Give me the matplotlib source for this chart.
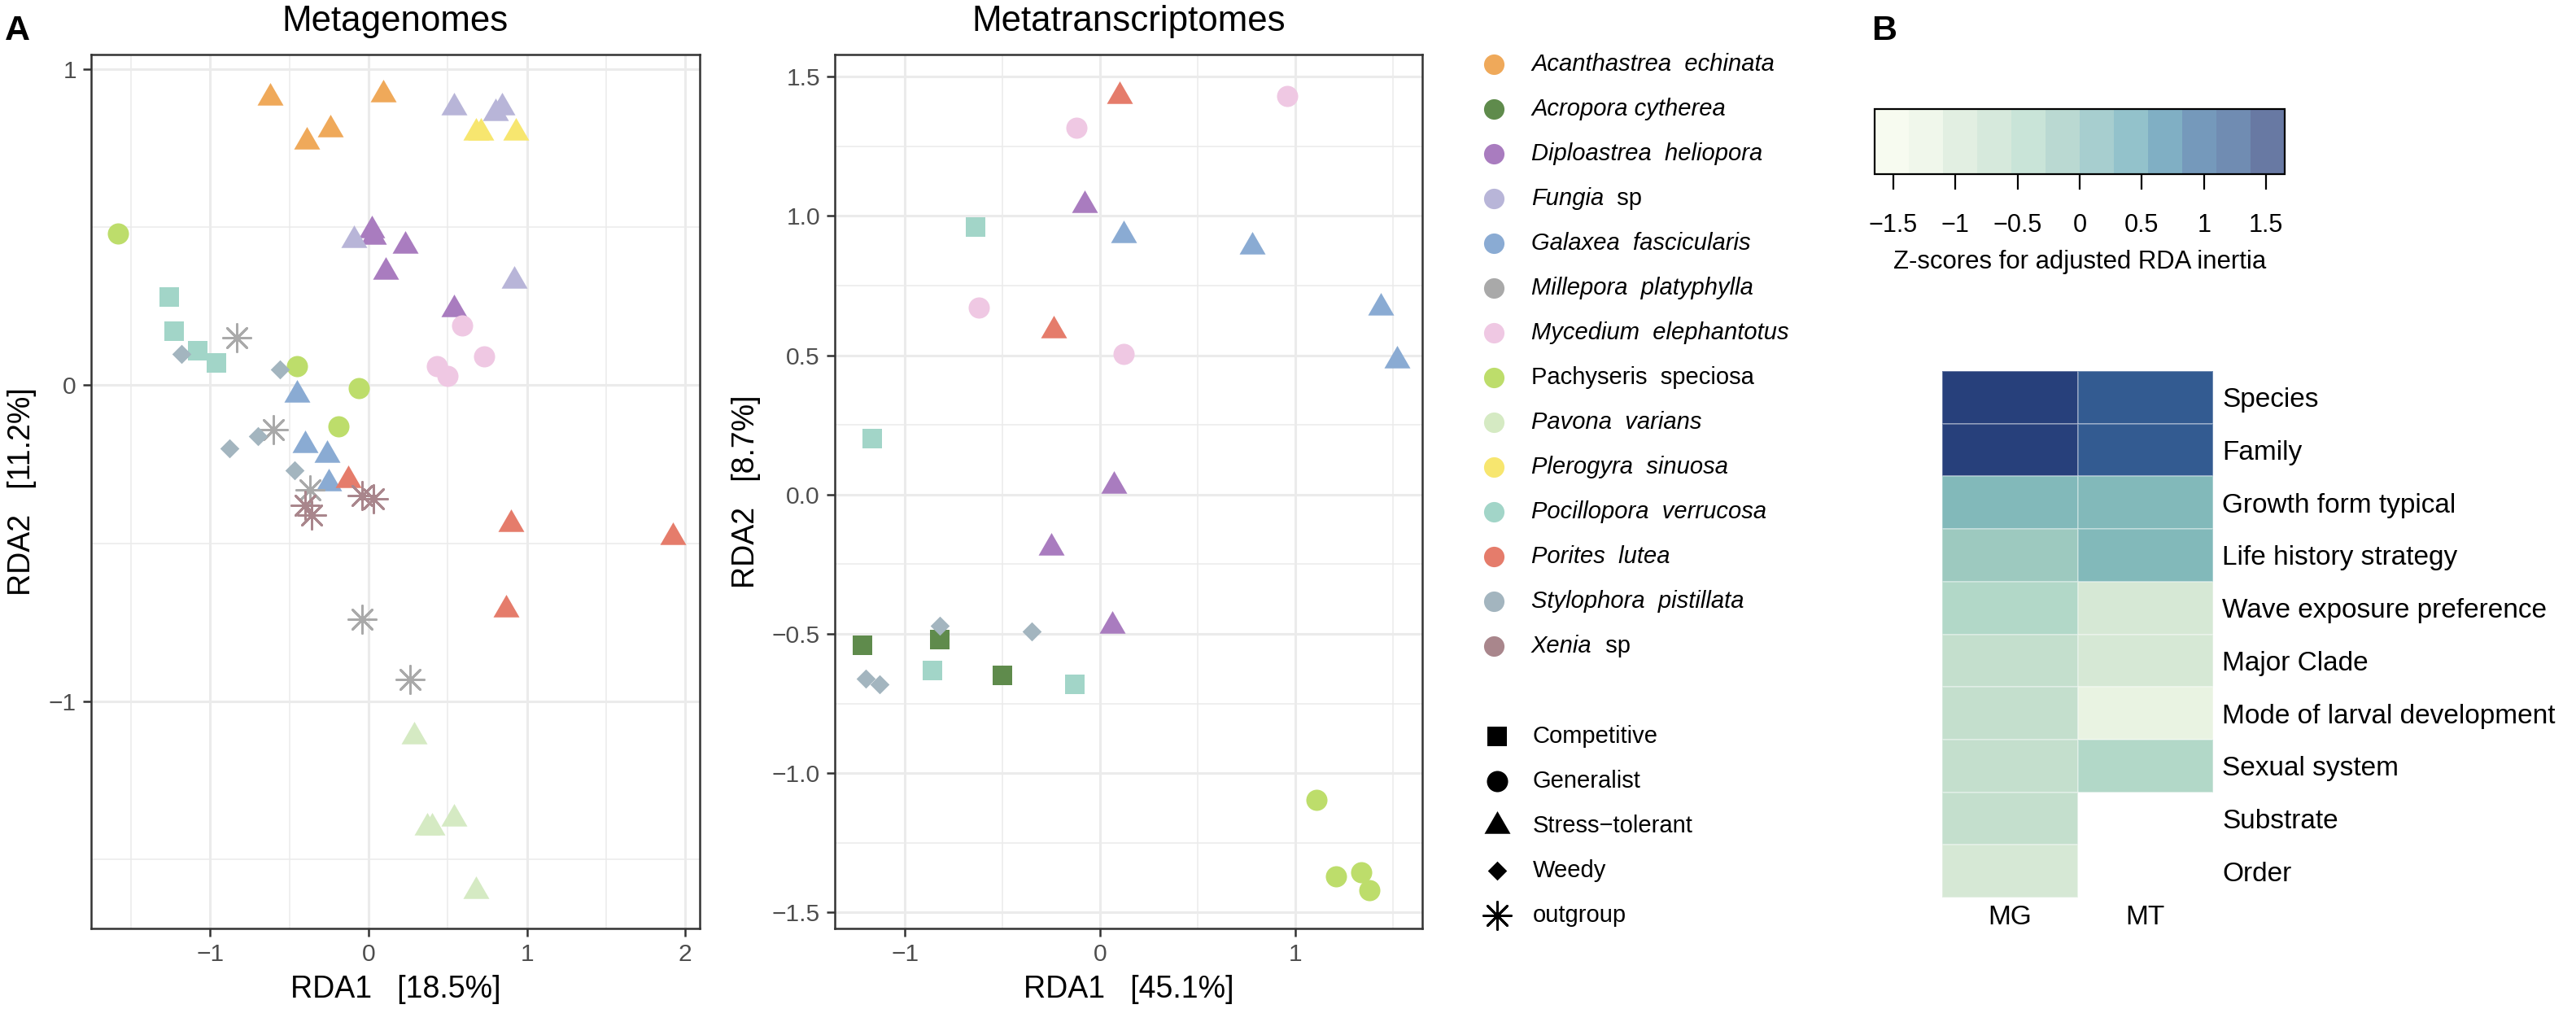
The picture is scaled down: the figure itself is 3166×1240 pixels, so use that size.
# libraries
import matplotlib.pyplot as plt
import numpy as np
from matplotlib.colors import ListedColormap, BoundaryNorm, to_rgb
from matplotlib.cm import ScalarMappable

plt.rcParams['font.family'] = ['Liberation Sans', 'DejaVu Sans']

# species, colours and life history strategy
species = ['Acanthastrea echinata', 'Acropora cytherea', 'Diploastrea heliopora', 'Fungia sp',
           'Galaxea fascicularis', 'Millepora platyphylla', 'Mycedium elephantotus', 'Pachyseris speciosa',
           'Pavona varians', 'Plerogyra sinuosa', 'Pocillopora verrucosa', 'Porites lutea',
           'Stylophora pistillata', 'Xenia sp']
species_colors = ['#efa95a', '#5f8b4c', '#a97cbf', '#b8b5d8', '#8aabd3', '#a9a9a9', '#efc8e3', '#bddd6b',
                  '#d5eac3', '#f7e66f', '#a2d5c8', '#e57c6b', '#a3b5bf', '#a9868c']
species_strategy = ['Stress-tolerant', 'Competitive', 'Stress-tolerant', 'Stress-tolerant', 'Stress-tolerant',
                    'outgroup', 'Generalist', 'Generalist', 'Stress-tolerant', 'Stress-tolerant',
                    'Competitive', 'Stress-tolerant', 'Weedy', 'outgroup']
strategies = ['Competitive', 'Generalist', 'Stress\u2212tolerant', 'Weedy', 'outgroup']

# metagenomes RDA scores
mg_species = (['Acanthastrea echinata'] * 4 + ['Fungia sp'] * 5 + ['Plerogyra sinuosa'] * 3
              + ['Diploastrea heliopora'] * 5 + ['Pachyseris speciosa'] * 4 + ['Pocillopora verrucosa'] * 4
              + ['Stylophora pistillata'] * 5 + ['Millepora platyphylla'] * 5 + ['Xenia sp'] * 4
              + ['Galaxea fascicularis'] * 4 + ['Porites lutea'] * 4 + ['Pavona varians'] * 5
              + ['Mycedium elephantotus'] * 4)
mg_rda1 = [-0.62, 0.09, -0.39, -0.24,
           0.54, 0.80, 0.84, -0.09, 0.92,
           0.68, 0.71, 0.93,
           0.02, 0.03, 0.23, 0.11, 0.54,
           -1.58, -0.45, -0.06, -0.19,
           -1.26, -1.23, -1.08, -0.96,
           -1.18, -0.56, -0.88, -0.70, -0.47,
           -0.83, -0.60, -0.37, -0.04, 0.26,
           -0.40, -0.36, -0.04, 0.03,
           -0.45, -0.40, -0.26, -0.25,
           -0.13, 0.90, 1.92, 0.87,
           0.29, 0.37, 0.40, 0.54, 0.68,
           0.59, 0.43, 0.50, 0.73]
mg_rda2 = [0.91, 0.92, 0.77, 0.81,
           0.88, 0.86, 0.88, 0.46, 0.33,
           0.80, 0.80, 0.80,
           0.49, 0.47, 0.44, 0.36, 0.24,
           0.48, 0.06, -0.01, -0.13,
           0.28, 0.17, 0.11, 0.07,
           0.10, 0.05, -0.20, -0.16, -0.27,
           0.15, -0.14, -0.33, -0.74, -0.93,
           -0.38, -0.41, -0.35, -0.36,
           -0.03, -0.19, -0.22, -0.31,
           -0.30, -0.44, -0.48, -0.71,
           -1.11, -1.40, -1.40, -1.37, -1.60,
           0.19, 0.06, 0.03, 0.09]

# metatranscriptomes RDA scores
mt_species = (['Porites lutea'] * 2 + ['Mycedium elephantotus'] * 4 + ['Diploastrea heliopora'] * 4
              + ['Galaxea fascicularis'] * 4 + ['Pocillopora verrucosa'] * 4 + ['Acropora cytherea'] * 3
              + ['Stylophora pistillata'] * 4 + ['Pachyseris speciosa'] * 4)
mt_rda1 = [0.10, -0.24,
           -0.12, 0.96, -0.62, 0.12,
           -0.08, 0.07, -0.25, 0.06,
           0.12, 0.78, 1.44, 1.52,
           -0.64, -1.17, -0.86, -0.13,
           -1.22, -0.82, -0.50,
           -0.82, -0.35, -1.20, -1.13,
           1.11, 1.21, 1.34, 1.38]
mt_rda2 = [1.43, 0.59,
           1.315, 1.43, 0.67, 0.505,
           1.04, 0.03, -0.19, -0.47,
           0.93, 0.89, 0.67, 0.48,
           0.96, 0.20, -0.63, -0.68,
           -0.54, -0.52, -0.65,
           -0.47, -0.49, -0.66, -0.68,
           -1.095, -1.37, -1.355, -1.42]

# heatmap of z-scores for adjusted RDA inertia
traits = ['Species', 'Family', 'Growth form typical', 'Life history strategy', 'Wave exposure preference',
          'Major Clade', 'Mode of larval development', 'Sexual system', 'Substrate', 'Order']
z_mg = [1.5, 1.5, 0.1, -0.2, -0.45, -0.7, -0.7, -0.75, -0.75, -0.95]
z_mt = [1.2, 1.2, 0.15, 0.15, -1.0, -1.0, -1.25, -0.45, np.nan, np.nan]
heat_colors = ['#f4f9ea', '#e9f3e2', '#d6e8d5', '#c4dfcd', '#b2d8c8', '#9dc9bf',
               '#82b9ba', '#65a8b5', '#4a8dab', '#3a6d9e', '#335b91', '#27407b']
cb_ticks = [-1.5, -1, -0.5, 0, 0.5, 1, 1.5]

# figure in pixel units
W, H, DPI = 3166, 1240, 200
fig = plt.figure(figsize=(W / DPI, H / DPI), dpi=DPI)


def px_axes(x0, y0, x1, y1, **kw):
    return fig.add_axes([x0 / W, 1 - y1 / H, (x1 - x0) / W, (y1 - y0) / H], **kw)


tri = [(0, 1), (-0.866, -0.5), (0.866, -0.5)]
shape_style = {'Competitive': ('s', 80), 'Generalist': ('o', 88), 'Stress-tolerant': (tri, 177),
               'Weedy': ('D', 36), 'outgroup': ((8, 2, 0), 150)}


def draw_scatter(ax, sp, x, y):
    sp = np.array(sp)
    x = np.array(x)
    y = np.array(y)
    for name, col, strat in zip(species, species_colors, species_strategy):
        m = sp == name
        if not m.any():
            continue
        mk, s = shape_style[strat]
        if strat == 'outgroup':
            ax.scatter(x[m], y[m], marker=mk, s=s, color=col, linewidths=1.0, zorder=3)
        else:
            ax.scatter(x[m], y[m], marker=mk, s=s, color=col, linewidths=0, zorder=3)


def style_panel(ax, xmaj, xmin, ymaj, ymin):
    ax.set_xticks(xmaj)
    ax.set_xticks(xmin, minor=True)
    ax.set_yticks(ymaj)
    ax.set_yticks(ymin, minor=True)
    ax.grid(which='major', color='#ebebeb', lw=1.1)
    ax.grid(which='minor', color='#ebebeb', lw=0.55)
    ax.set_axisbelow(True)
    ax.tick_params(which='major', length=3.5, width=0.9, color='#333333', labelcolor='#4d4d4d',
                   labelsize=10.8, pad=3)
    ax.tick_params(which='minor', length=0)
    for sp in ax.spines.values():
        sp.set_color('#333333')
        sp.set_linewidth(0.9)


# Metagenomes panel
ax1 = px_axes(112, 67, 860, 1141)
draw_scatter(ax1, mg_species, mg_rda1, mg_rda2)
ax1.set_xlim(-1.752, 2.091)
ax1.set_ylim(-1.718, 1.046)
style_panel(ax1, [-1, 0, 1, 2], [-1.5, -0.5, 0.5, 1.5], [-1, 0, 1], [-1.5, -0.5, 0.5])
ax1.set_xlabel('RDA1   [18.5%]', fontsize=13.5, va='baseline')
ax1.xaxis.set_label_coords(0.5, (1141 - 1226) / 1074)
ax1.set_ylabel('RDA2   [11.2%]', fontsize=13.5, va='center', ha='center')
ax1.yaxis.set_label_coords((27 - 112) / 748, 0.5)

# Metatranscriptomes panel
ax2 = px_axes(1026, 67, 1748.5, 1141)
draw_scatter(ax2, mt_species, mt_rda1, mt_rda2)
ax2.set_xlim(-1.360, 1.653)
ax2.set_ylim(-1.557, 1.579)
style_panel(ax2, [-1, 0, 1], [-0.5, 0.5, 1.5], [-1.5, -1.0, -0.5, 0.0, 0.5, 1.0, 1.5],
            [-1.25, -0.75, -0.25, 0.25, 0.75, 1.25])
ax2.yaxis.set_major_formatter(plt.FormatStrFormatter('%.1f'))
ax2.set_yticklabels([f'{v:.1f}'.replace('-', '\u2212') for v in [-1.5, -1.0, -0.5, 0.0, 0.5, 1.0, 1.5]])
ax2.set_xlabel('RDA1   [45.1%]', fontsize=13.5, va='baseline')
ax2.xaxis.set_label_coords(0.5, (1141 - 1226) / 1074)
ax2.set_ylabel('RDA2   [8.7%]', fontsize=13.5, va='center', ha='center')
ax2.yaxis.set_label_coords((917 - 1026) / 722.5, 0.5)

# heatmap
cmap = ListedColormap(heat_colors)
bounds = np.linspace(-1.65, 1.65, len(heat_colors) + 1)
norm = BoundaryNorm(bounds, cmap.N)
hax = px_axes(2387, 456, 2720, 1103)
z = np.ma.masked_invalid(np.column_stack([z_mg, z_mt]))
hax.pcolormesh(np.arange(3), np.arange(len(traits) + 1), z, cmap=cmap, norm=norm,
               edgecolors=(1, 1, 1, 0.3), linewidth=0.6)
hax.set_xlim(0, 2)
hax.set_ylim(len(traits), 0)
hax.set_yticks(np.arange(len(traits)) + 0.5)
hax.set_yticklabels(traits)
hax.yaxis.tick_right()
hax.set_xticks([0.5, 1.5])
hax.set_xticklabels(['MG', 'MT'])
hax.tick_params(axis='y', length=0, pad=4, labelsize=12)
hax.tick_params(axis='x', length=0, pad=3.2, labelsize=12)
for sp in hax.spines.values():
    sp.set_visible(False)

# colorbar (drawn lighter, as in the original)
cb_cmap = ListedColormap([np.array(to_rgb(c)) * 0.7 + 0.3 for c in heat_colors])
cax = px_axes(2304, 134, 2808, 214)
cb = fig.colorbar(ScalarMappable(norm=BoundaryNorm(bounds, cb_cmap.N), cmap=cb_cmap), cax=cax,
                  orientation='horizontal')
cb.set_ticks(cb_ticks)
cb.set_ticklabels([f'{t:g}'.replace('-', '\u2212') for t in cb_ticks])
cb.outline.set_linewidth(0.8)
cax.tick_params(length=6.8, width=0.8, direction='out', labelsize=11, pad=10.5, color='black')
cax.minorticks_off()

# overlay for titles, panel letters and legends (pixel coordinates)
ov = px_axes(0, 0, W, H, zorder=10)
ov.set_xlim(0, W)
ov.set_ylim(H, 0)
ov.axis('off')
ov.patch.set_alpha(0)

ov.text(486, 38, 'Metagenomes', fontsize=15.8, ha='center', va='baseline')
ov.text(1387, 38, 'Metatranscriptomes', fontsize=15.8, ha='center', va='baseline')
ov.text(6, 49, 'A', fontsize=15.5, fontweight='bold', ha='left', va='baseline')
ov.text(2300, 49, 'B', fontsize=15.5, fontweight='bold', ha='left', va='baseline')
ov.text(2556, 322, 'Z-scores for adjusted RDA inertia', fontsize=11.2, ha='center', va='center')

# species legend
for i, (name, col) in enumerate(zip(species, species_colors)):
    yy = 79 + 55 * i
    ov.scatter([1836], [yy], s=82, color=col, linewidths=0)
    genus, sp_name = name.split(' ')
    gap = ' ' if genus == 'Acropora' else '  '
    if name == 'Pachyseris speciosa':
        ov.text(1882, yy, genus + gap + sp_name, fontsize=10.5, va='center')
    elif sp_name == 'sp':
        t = ov.text(1882, yy, genus, fontsize=10.5, va='center', style='italic')
        ov.annotate(gap + sp_name, xy=(1, 0), xycoords=t, xytext=(0, 0), textcoords='offset points',
                    fontsize=10.5, va='bottom', ha='left')
    else:
        ov.text(1882, yy, genus + gap + sp_name, fontsize=10.5, va='center', style='italic')

# shape legend
for i, strat in enumerate(['Competitive', 'Generalist', 'Stress-tolerant', 'Weedy', 'outgroup']):
    yy = 905 + 55 * i
    mk, s = shape_style[strat]
    ov.scatter([1840], [yy], marker=mk, s=s, color='black', linewidths=1.0 if strat == 'outgroup' else 0)
    ov.text(1884, yy, strategies[i], fontsize=10.5, va='center')

fig.savefig('out.png', dpi=DPI)
